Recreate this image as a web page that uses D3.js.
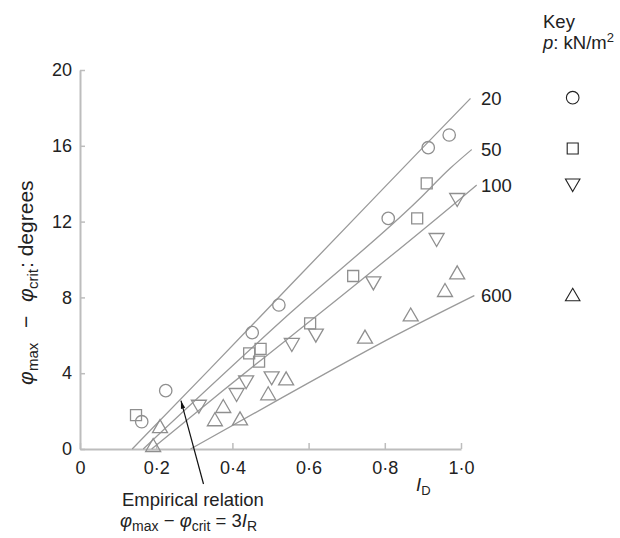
<!DOCTYPE html>
<html>
<head>
<meta charset="utf-8">
<script src="https://cdn.jsdelivr.net/npm/d3@7/dist/d3.min.js"></script>
<style>
  html, body { margin: 0; padding: 0; background: #fff; }
  svg { display: block; }
  text { font-family: "Liberation Sans", Arial, Helvetica, sans-serif; fill: #222; }
</style>
</head>
<body>
<svg id="chart" width="620" height="538"></svg>
<script>
// ---------- data ----------
const xTicks = [0, 0.2, 0.4, 0.6, 0.8, 1.0];
const yTicks = [0, 4, 8, 12, 16, 20];
const pressures = ["20", "50", "100", "600"];
const symbols = ["circle", "square", "triDown", "triUp"];

// data points [I_D, phi_max - phi_crit]
const pts20 = [[0.162,1.44],[0.225,3.08],[0.452,6.14],[0.522,7.6],[0.809,12.17],[0.914,15.9],[0.969,16.57]];
const pts50 = [[0.147,1.79],[0.444,5.05],[0.474,5.28],[0.47,4.61],[0.604,6.63],[0.717,9.13],[0.885,12.17],[0.91,14.02]];
const pts100 = [[0.312,2.23],[0.411,2.85],[0.436,3.52],[0.503,3.73],[0.556,5.49],[0.619,5.98],[0.77,8.74],[0.936,11.03],[0.99,13.14]];
const pts600 = [[0.192,0.21],[0.21,1.21],[0.354,1.57],[0.376,2.27],[0.42,1.62],[0.494,2.94],[0.541,3.73],[0.748,5.93],[0.868,7.1],[0.958,8.39],[0.99,9.32]];

// empirical relation curves
const curve20 = [[0.137,0],[0.34,4.2],[0.55,8.6],[0.77,13.2],[0.885,15.6],[1.025,18.5]];
const curve50 = [[0.166,0],[0.551,7.16],[0.888,13.14],[0.971,14.8],[1.028,15.8]];
const curve100 = [[0.188,0],[0.35,2.67],[0.731,8.8],[0.971,12.75],[1.041,13.93]];
const curve600 = [[0.29,0],[0.52,2.59],[0.822,5.93],[1.035,8.1]];

const allPts = [pts20, pts50, pts100, pts600];
const allCurves = [curve20, curve50, curve100, curve600];

// ---------- setup ----------
const svg = d3.select("#chart");
const x = d3.scaleLinear().domain([0, 1]).range([80, 461]);
const y = d3.scaleLinear().domain([0, 20]).range([449, 70]);

const axisColor = "#bdbdbd";
const markColor = "#8f8f8f";

// axes
const fmtX = d => d === 0 ? "0" : d3.format(".1f")(d).replace(".", "\u00B7");
const gx = svg.append("g").attr("transform", `translate(0,${y(0)})`)
  .call(d3.axisBottom(x).tickValues(xTicks).tickFormat(fmtX).tickSizeInner(-6).tickSizeOuter(0).tickPadding(12));
const gy = svg.append("g").attr("transform", `translate(${x(0)},0)`)
  .call(d3.axisLeft(y).tickValues(yTicks).tickFormat(d3.format("d")).tickSizeInner(-5).tickSizeOuter(0).tickPadding(8));
[gx, gy].forEach(g => {
  g.select(".domain").attr("stroke", axisColor).attr("stroke-width", 2);
  g.selectAll(".tick line").attr("stroke", axisColor).attr("stroke-width", 1.5);
  g.selectAll(".tick text").attr("fill", "#222").style("font-size", "18px")
    .style("font-family", '"Liberation Sans", Arial, sans-serif');
});

// curves
const line = d3.line().x(d => x(d[0])).y(d => y(d[1])).curve(d3.curveMonotoneX);
svg.append("g").selectAll("path").data(allCurves).join("path")
  .attr("d", line).attr("fill", "none").attr("stroke", "#9a9a9a").attr("stroke-width", 1.3);

// curve labels
svg.append("g").selectAll("text").data(allCurves).join("text")
  .attr("x", 481)
  .attr("y", d => y(d[d.length - 1][1]))
  .attr("dy", "0.36em")
  .style("font-size", "18.5px")
  .text((d, i) => pressures[i]);

// symbol generators
function symPath(type, s) {
  if (type === "circle") { const r = s.r; return `M${r},0A${r},${r} 0 1,1 ${-r},0A${r},${r} 0 1,1 ${r},0Z`; }
  if (type === "square") { const h = s.sq / 2; return `M${-h},${-h}H${h}V${h}H${-h}Z`; }
  const w = s.tw / 2, h = s.th / 2;
  if (type === "triUp") return `M0,${-h}L${w},${h}L${-w},${h}Z`;
  return `M0,${h}L${w},${-h}L${-w},${-h}Z`;
}
const dataSize = { r: 6.2, sq: 11, tw: 15, th: 13 };
const keySize = { r: 6.3, sq: 11, tw: 14.5, th: 12.5 };

allPts.forEach((pts, i) => {
  svg.append("g").selectAll("path").data(pts).join("path")
    .attr("transform", d => `translate(${x(d[0])},${y(d[1])})`)
    .attr("d", symPath(symbols[i], dataSize))
    .attr("fill", "none").attr("stroke", markColor).attr("stroke-width", 1.3);
});

// key
svg.append("text").attr("x", 543).attr("y", 28).style("font-size", "18.5px").text("Key");
const kt = svg.append("text").attr("x", 543).attr("y", 49).style("font-size", "18.5px");
kt.append("tspan").style("font-style", "italic").text("p");
kt.append("tspan").text(": kN/m");
kt.append("tspan").attr("dy", -7).style("font-size", "13px").text("2");

const keyY = [97.7, 148.5, 185.3, 294.5];
svg.append("g").selectAll("path").data(symbols).join("path")
  .attr("transform", (d, i) => `translate(572.7,${keyY[i]})`)
  .attr("d", d => symPath(d, keySize))
  .attr("fill", "none").attr("stroke", "#222").attr("stroke-width", 1.1);

// y-axis title (rotated), pieces placed along the axis
const yl = svg.append("text").attr("transform", "translate(33,0) rotate(-90)").style("font-size", "21px");
yl.append("tspan").attr("x", -385).style("font-style", "italic").text("\u03C6");
yl.append("tspan").attr("x", -371).attr("dy", 5).style("font-size", "15px").text("max");
yl.append("tspan").attr("x", -328).attr("dy", -5).text("\u2212");
yl.append("tspan").attr("x", -302).style("font-style", "italic").text("\u03C6");
yl.append("tspan").attr("x", -289).attr("dy", 5).style("font-size", "15px").text("crit");
yl.append("tspan").attr("x", -268).attr("dy", -5).text(": degrees");

const xl = svg.append("text").attr("x", 416).attr("y", 491).style("font-size", "18.5px");
xl.append("tspan").style("font-style", "italic").text("I");
xl.append("tspan").attr("dy", 4).style("font-size", "13px").text("D");

// annotation
const tipX = x(0.265), tipY = y(2.55);
const tailX = 203.5, tailY = 484;
svg.append("line").attr("x1", tipX).attr("y1", tipY).attr("x2", tailX).attr("y2", tailY)
  .attr("stroke", "#111").attr("stroke-width", 1.2);
{
  const ang = Math.atan2(tailY - tipY, tailX - tipX);
  const L = 8, W = 2.2;
  const bx = tipX + L * Math.cos(ang), by = tipY + L * Math.sin(ang);
  const px = -Math.sin(ang) * W, py = Math.cos(ang) * W;
  svg.append("path").attr("d", `M${tipX},${tipY}L${bx + px},${by + py}L${bx - px},${by - py}Z`).attr("fill", "#111");
}
svg.append("text").attr("x", 122).attr("y", 506).style("font-size", "18.5px").text("Empirical relation");
const ft = svg.append("text").attr("x", 120).attr("y", 527).style("font-size", "18.5px");
ft.append("tspan").style("font-style", "italic").text("\u03C6");
ft.append("tspan").attr("dy", 4).style("font-size", "14px").text("max");
ft.append("tspan").attr("dy", -4).text(" \u2212 ");
ft.append("tspan").style("font-style", "italic").text("\u03C6");
ft.append("tspan").attr("dy", 4).style("font-size", "14px").text("crit");
ft.append("tspan").attr("dy", -4).text(" = 3");
ft.append("tspan").style("font-style", "italic").text("I");
ft.append("tspan").attr("dy", 4).style("font-size", "14px").text("R");
</script>
</body>
</html>
